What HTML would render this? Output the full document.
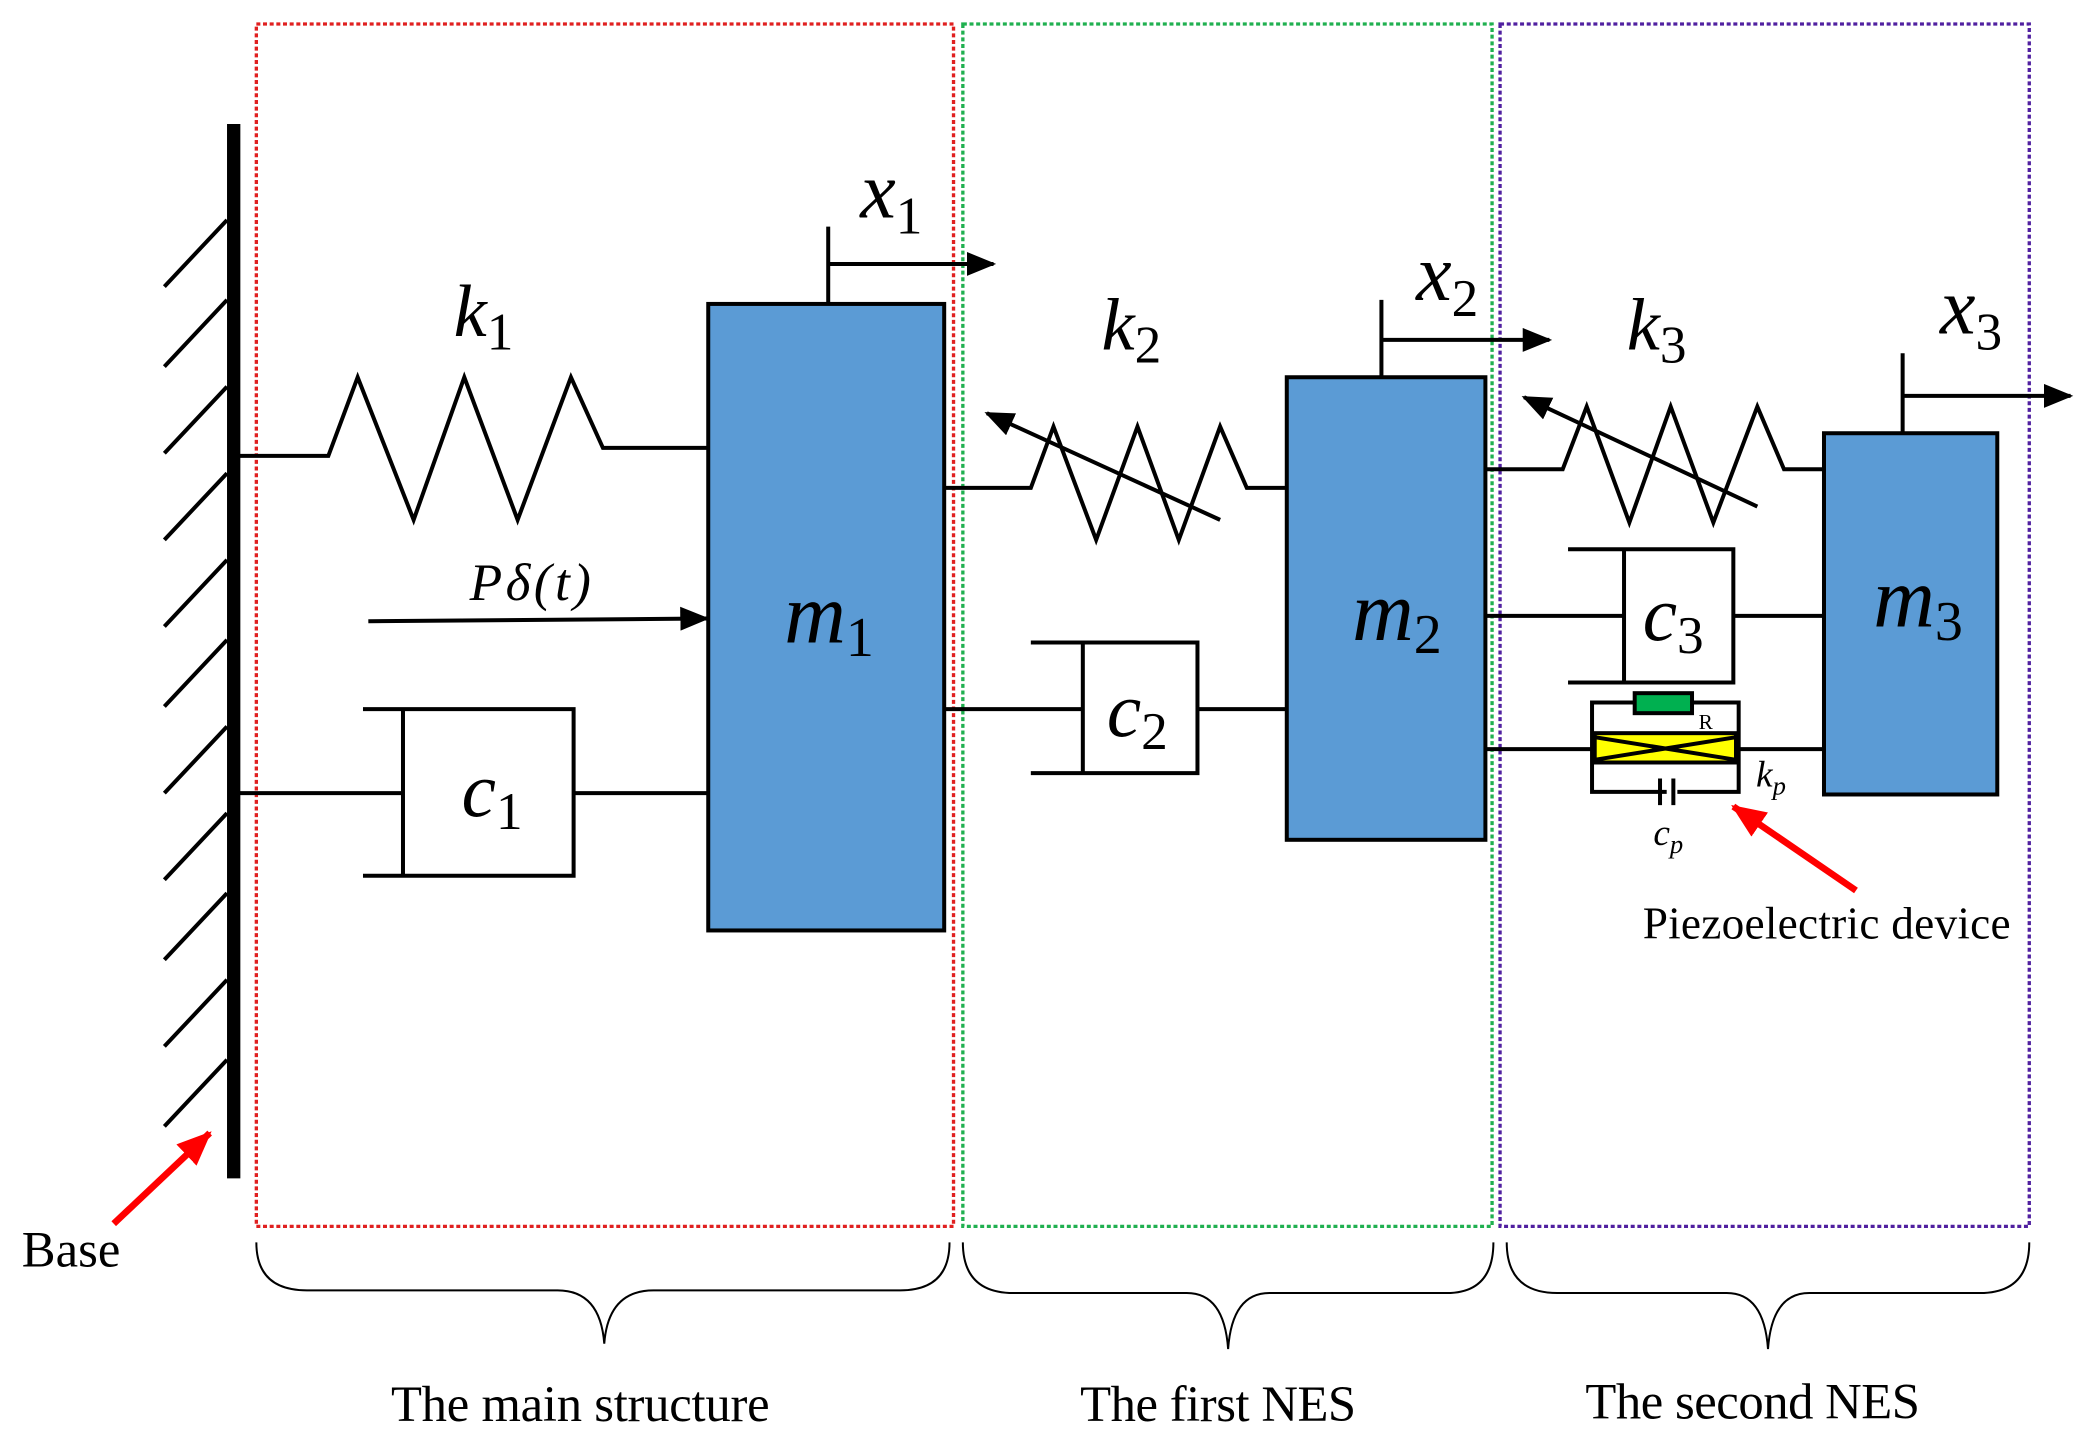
<!DOCTYPE html>
<html><head><meta charset="utf-8"><style>html,body{margin:0;padding:0;background:#fff}svg{display:block}</style></head>
<body>
<svg width="2091" height="1445" viewBox="0 0 1568 1084" xmlns="http://www.w3.org/2000/svg">
<defs>
<marker id="ab" markerWidth="22" markerHeight="18" refX="20" refY="9" orient="auto" markerUnits="userSpaceOnUse"><path d="M0,0 L22,9 L0,18 z"/></marker>
<marker id="ar" markerWidth="26" markerHeight="22" refX="24" refY="11" orient="auto" markerUnits="userSpaceOnUse"><path d="M0,0 L26,11 L0,22 z" fill="red"/></marker>
</defs>
<g fill="none" stroke-width="2.5" stroke-dasharray="3,2">
<rect x="192" y="18" width="523" height="902" stroke="#e02020"/>
<rect x="722" y="18" width="397" height="902" stroke="#20b050"/>
<rect x="1125" y="18" width="397" height="902" stroke="#5020a0"/>
</g>
<g stroke="#000" fill="none" stroke-width="3">
<line x1="175" y1="93" x2="175" y2="884" stroke-width="10"/>
<path d="M123,215 L170,165 M123,275 L170,225 M123,340 L170,290 M123,405 L170,355 M123,470 L170,420 M123,530 L170,480 M123,595 L170,545 M123,660 L170,610 M123,720 L170,670 M123,785 L170,735 M123,845 L170,795"/>
<path d="M175,342 L246,342 L268,283 L310,390 L348,283 L388,390 L428,283 L452,336 L531,336"/>
<path d="M175,595 L302,595 M272,532 L430,532 L430,657 L272,657 M302,532 L302,657 M430,595 L531,595"/>
<path d="M276,466 L530,464" marker-end="url(#ab)"/>
<path d="M621,228 L621,170 L621,198 L745,198" marker-end="url(#ab)"/>
<path d="M708,366 L773,366 L790,320 L822,405 L853,320 L884,405 L915,320 L935,366 L966,366"/>
<path d="M915,390 L740,310" marker-end="url(#ab)"/>
<path d="M708,532 L812,532 M773,482 L898,482 L898,580 L773,580 M812,482 L812,580 M898,532 L966,532"/>
<path d="M1036,283 L1036,225 L1036,255 L1162,255" marker-end="url(#ab)"/>
<path d="M1115,352 L1172,352 L1190,305 L1222,392 L1253,305 L1285,392 L1318,305 L1338,352 L1368,352"/>
<path d="M1318,380 L1143,298" marker-end="url(#ab)"/>
<path d="M1115,462 L1218,462 M1176,412 L1300,412 L1300,512 L1176,512 M1218,412 L1218,512 M1300,462 L1368,462"/>
<path d="M1427,325 L1427,265 L1427,297 L1553,297" marker-end="url(#ab)"/>
<path d="M1115,562 L1194,562 M1304,562 L1368,562"/>
<path d="M1250,594 L1194,594 L1194,527 L1304,527 L1304,594 L1258,594"/>
</g>
<rect x="1196" y="550" width="106" height="22" fill="#ffff00" stroke="#000" stroke-width="3"/>
<path d="M1196,553 L1302,570 M1196,570 L1302,553" stroke="#000" stroke-width="3"/>
<rect x="1226" y="520" width="43" height="15" fill="#00b050" stroke="#000" stroke-width="3"/>
<path d="M1245,584 L1245,604 M1255,584 L1255,604" stroke="#000" stroke-width="3"/>
<g fill="#5b9bd5" stroke="#000" stroke-width="3">
<rect x="531" y="228" width="177" height="470"/>
<rect x="965" y="283" width="149" height="347"/>
<rect x="1368" y="325" width="130" height="271"/>
</g>
<path d="M85,918 L157,850" stroke="red" stroke-width="5" marker-end="url(#ar)"/>
<path d="M1392,668 L1300,605" stroke="red" stroke-width="5" marker-end="url(#ar)"/>
<path d="M192,932 Q192,968 230,968 L418,968 Q450,968 453,1008 Q456,968 490,968 L675,968 Q712,968 712,932" fill="none" stroke="#000" stroke-width="1.5"/>
<path d="M722,932 Q722,970 760,970 L890,970 Q918,970 921,1012 Q924,970 952,970 L1085,970 Q1120,970 1120,932" fill="none" stroke="#000" stroke-width="1.5"/>
<path d="M1130,932 Q1130,970 1168,970 L1295,970 Q1323,970 1326,1012 Q1329,970 1357,970 L1485,970 Q1522,970 1522,932" fill="none" stroke="#000" stroke-width="1.5"/>
<g font-family="'Liberation Serif', serif" font-style="italic" fill="#000">
<text x="340" y="252" font-size="56">k<tspan font-size="40" dy="10" font-style="normal">1</tspan></text>
<text x="826" y="262" font-size="56">k<tspan font-size="40" dy="10" font-style="normal">2</tspan></text>
<text x="1220" y="262" font-size="56">k<tspan font-size="40" dy="10" font-style="normal">3</tspan></text>
<text x="645" y="163" font-size="60">x<tspan font-size="40" dy="12" font-style="normal">1</tspan></text>
<text x="1062" y="225" font-size="60">x<tspan font-size="40" dy="12" font-style="normal">2</tspan></text>
<text x="1455" y="250" font-size="60">x<tspan font-size="40" dy="12" font-style="normal">3</tspan></text>
<text x="588" y="482" font-size="64">m<tspan font-size="42" dy="10" font-style="normal">1</tspan></text>
<text x="1014" y="480" font-size="64">m<tspan font-size="42" dy="10" font-style="normal">2</tspan></text>
<text x="1405" y="470" font-size="64">m<tspan font-size="42" dy="10" font-style="normal">3</tspan></text>
<text x="346" y="612" font-size="58">c<tspan font-size="40" dy="10" font-style="normal">1</tspan></text>
<text x="830" y="552" font-size="58">c<tspan font-size="40" dy="10" font-style="normal">2</tspan></text>
<text x="1232" y="480" font-size="58">c<tspan font-size="40" dy="10" font-style="normal">3</tspan></text>
<text x="352" y="450" font-size="40" textLength="91">Pδ(t)</text>
<text x="1317" y="590" font-size="28">k<tspan font-size="20" dy="6">p</tspan></text>
<text x="1240" y="634" font-size="28">c<tspan font-size="20" dy="6">p</tspan></text>
</g>
<g font-family="'Liberation Serif', serif" fill="#000" font-size="38">
<text x="16" y="950" textLength="74">Base</text>
<text x="1232" y="704" font-size="34" textLength="276">Piezoelectric device</text>
<text x="293" y="1066" textLength="284">The main structure</text>
<text x="810" y="1066" textLength="207">The first NES</text>
<text x="1189" y="1064" textLength="251">The second NES</text>
<text x="1274" y="547" font-size="16">R</text>
</g>
</svg>
</body></html>
